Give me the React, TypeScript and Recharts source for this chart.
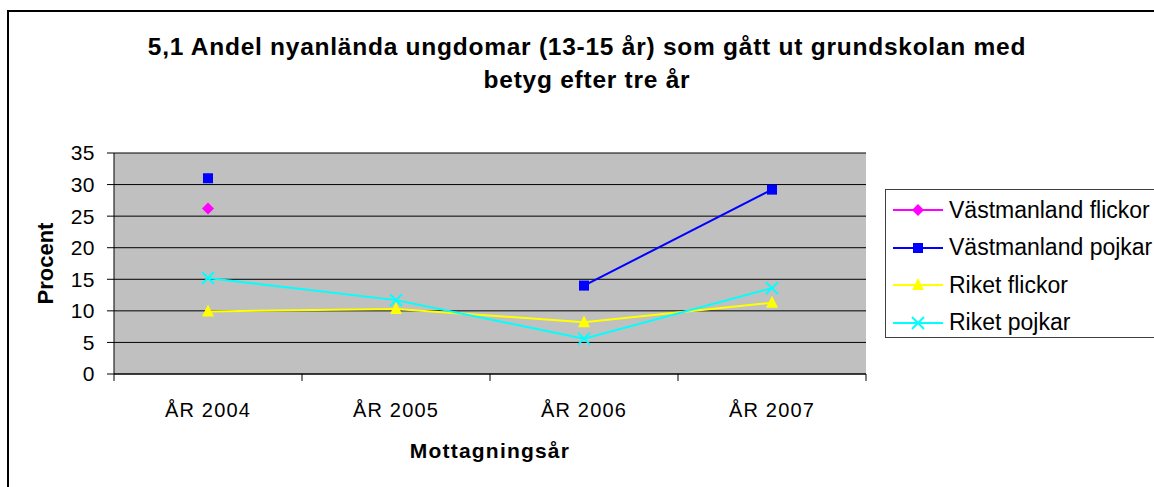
import React from 'react';
import { LineChart, Line, XAxis, YAxis, CartesianGrid } from 'recharts';

const CATEGORIES = ['ÅR 2004', 'ÅR 2005', 'ÅR 2006', 'ÅR 2007'];
const VM_FLICKOR = [26.2, null, null, null];
const VM_POJKAR = [31, null, 14, 29.2];
const RIKET_FLICKOR = [9.9, 10.3, 8.2, 11.3];
const RIKET_POJKAR = [15.2, 11.7, 5.6, 13.6];
const Y_TICKS = [0, 5, 10, 15, 20, 25, 30, 35];

const SERIES = [
  { key: 'vmf', name: 'Västmanland flickor', color: '#FF00FF', shape: 'diamond', values: VM_FLICKOR },
  { key: 'vmp', name: 'Västmanland pojkar', color: '#0000FF', shape: 'square', values: VM_POJKAR },
  { key: 'rf', name: 'Riket flickor', color: '#FFFF00', shape: 'triangle', values: RIKET_FLICKOR },
  { key: 'rp', name: 'Riket pojkar', color: '#00FFFF', shape: 'cross', values: RIKET_POJKAR },
];

const data = CATEGORIES.map((year, i) => {
  const row: any = { year };
  SERIES.forEach(s => { row[s.key] = s.values[i]; });
  return row;
});

const FONT = '"Liberation Sans", Arial, sans-serif';
const W = 1154;
const H = 487;
const PLOT_LEFT = 114;
const PLOT_RIGHT = 866;
const BAND = (PLOT_RIGHT - PLOT_LEFT) / CATEGORIES.length;

function Marker({ shape, color, cx, cy }: any) {
  if (shape === 'diamond') {
    return <polygon points={`${cx},${cy - 6} ${cx + 6},${cy} ${cx},${cy + 6} ${cx - 6},${cy}`} fill={color} />;
  }
  if (shape === 'square') {
    return <rect x={cx - 5} y={cy - 5} width={10} height={10} fill={color} />;
  }
  if (shape === 'triangle') {
    return <polygon points={`${cx},${cy - 7} ${cx + 6},${cy + 5} ${cx - 6},${cy + 5}`} fill={color} />;
  }
  return (
    <g stroke={color} strokeWidth={2}>
      <line x1={cx - 6} y1={cy - 6} x2={cx + 6} y2={cy + 6} />
      <line x1={cx - 6} y1={cy + 6} x2={cx + 6} y2={cy - 6} />
    </g>
  );
}

// category label in the middle of the band, tick marks on the band edges
const XTick = (props: any) => {
  const { x, y, payload, index } = props;
  const axisY = y - 7 - 22;
  const half = payload && typeof payload.offset === 'number' && payload.offset > 0 ? payload.offset : BAND / 2;
  return (
    <g>
      <line x1={x - half} y1={axisY} x2={x - half} y2={axisY + 7} stroke="#000" />
      {index === CATEGORIES.length - 1 && (
        <line x1={x + half} y1={axisY} x2={x + half} y2={axisY + 7} stroke="#000" />
      )}
      <text x={x} y={y} dy="0.71em" textAnchor="middle" fontSize={20} fontFamily={FONT} letterSpacing={1.2} fill="#000">
        {payload.value}
      </text>
    </g>
  );
};

function ChartLegend() {
  return (
    <div
      style={{
        position: 'absolute', left: 885, top: 189, width: 400, height: 149,
        border: '1px solid #404040', background: '#fff', boxSizing: 'border-box',
        fontFamily: FONT, fontSize: 23, color: '#000',
      }}
    >
      {SERIES.map((s, i) => (
        <div key={s.key} style={{ position: 'absolute', left: 7, top: 2 + i * 37.5, height: 36, display: 'flex', alignItems: 'center' }}>
          <svg width={50} height={20} style={{ marginRight: 6 }}>
            <line x1={0} y1={10} x2={50} y2={10} stroke={s.color} strokeWidth={2} />
            <Marker shape={s.shape} color={s.color} cx={25} cy={10} />
          </svg>
          <span style={{ whiteSpace: 'nowrap' }}>{s.name}</span>
        </div>
      ))}
    </div>
  );
}

export default function App() {
  return (
    <div style={{ position: 'absolute', left: 0, top: 0, width: W, height: H, overflow: 'hidden', background: '#fff' }}>
      <div style={{ position: 'absolute', left: 7, top: 10, width: 1300, height: 700, border: '2px solid #000' }} />
      <div
        style={{
          position: 'absolute', left: 0, top: 30, width: 1174, textAlign: 'center',
          fontFamily: FONT, fontWeight: 'bold', fontSize: 24.5, letterSpacing: 0.75, lineHeight: '33px', color: '#000',
        }}
      >
        5,1 Andel nyanlända ungdomar (13-15 år) som gått ut grundskolan med
        <br />
        betyg efter tre år
      </div>
      <div style={{ position: 'absolute', left: 0, top: 0 }}>
        <LineChart width={W} height={H} data={data} margin={{ top: 153, right: W - PLOT_RIGHT, bottom: 73, left: 14 }}>
          <CartesianGrid vertical={false} stroke="#000" fill="#C0C0C0" fillOpacity={1} />
          <XAxis
            dataKey="year"
            scale="band"
            height={40}
            axisLine={{ stroke: '#000' }}
            tickLine={false}
            tickSize={7}
            tickMargin={22}
            tick={<XTick />}
            interval={0}
            label={{ value: 'Mottagningsår', position: 'bottom', offset: 29, fontSize: 21, fontWeight: 'bold', fontFamily: FONT, fill: '#000', letterSpacing: 1.2 }}
          />
          <XAxis xAxisId="top" orientation="top" dataKey="year" scale="band" height={0} tick={false} tickLine={false} axisLine={{ stroke: '#808080' }} />
          <YAxis
            domain={[0, 35]}
            ticks={Y_TICKS}
            width={100}
            axisLine={{ stroke: '#000' }}
            tickLine={{ stroke: '#000' }}
            tickSize={7}
            tickMargin={12}
            interval={0}
            tick={{ fontSize: 21, fontFamily: FONT, fill: '#000', letterSpacing: 0.5 }}
            label={{ value: 'Procent', angle: -90, position: 'insideLeft', offset: 31, style: { textAnchor: 'middle' }, fontSize: 22, fontWeight: 'bold', fontFamily: FONT, fill: '#000' }}
          />
          <YAxis yAxisId="right" orientation="right" domain={[0, 35]} width={0} tick={false} tickLine={false} axisLine={{ stroke: '#808080' }} />
          {SERIES.map(s => (
            <Line
              key={s.key}
              dataKey={s.key}
              name={s.name}
              stroke={s.color}
              strokeWidth={2}
              isAnimationActive={false}
              connectNulls={false}
              dot={(p: any) => (
                p.cy == null || p.value == null
                  ? <g key={`${s.key}-${p.index}`} />
                  : <Marker key={`${s.key}-${p.index}`} shape={s.shape} color={s.color} cx={p.cx} cy={p.cy} />
              )}
              activeDot={false}
            />
          ))}
        </LineChart>
      </div>
      <ChartLegend />
    </div>
  );
}
